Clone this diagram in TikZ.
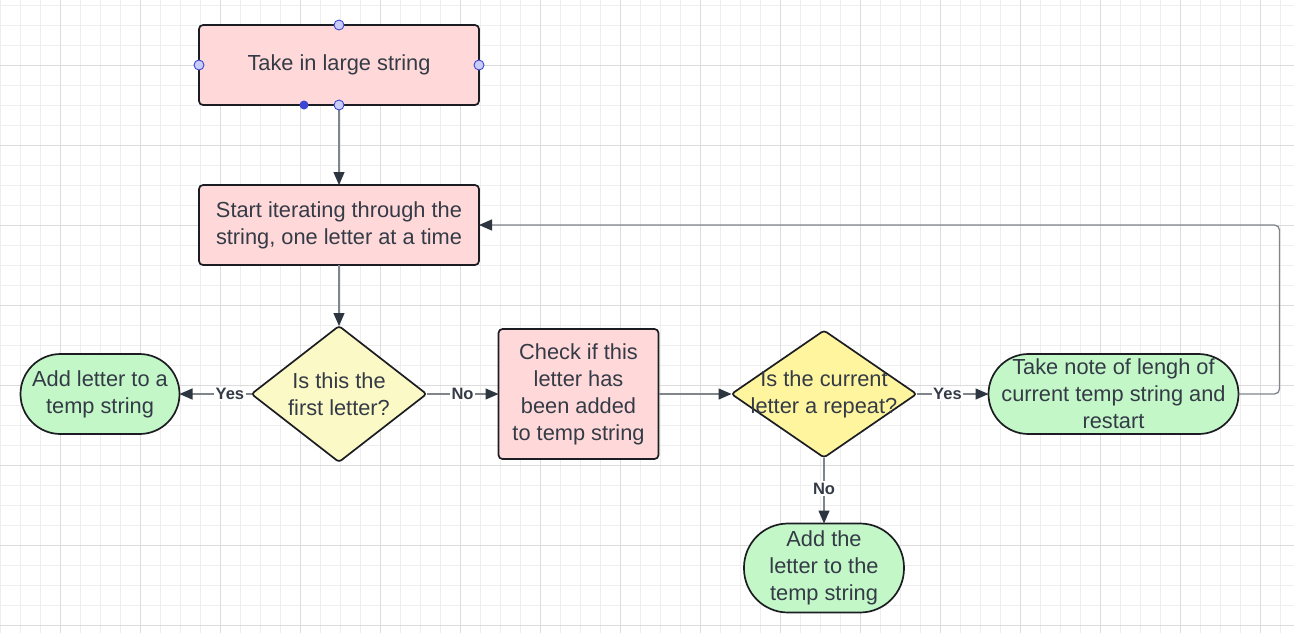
\documentclass[tikz,border=0pt]{standalone}
\usepackage{fontspec}
\setmainfont{Liberation Sans}
\usepackage{xcolor}
\usetikzlibrary{positioning,shapes,arrows.meta,calc}
\definecolor{boxpink}{HTML}{FFD9D9}
\definecolor{palelemon}{HTML}{FBF9C6}
\definecolor{lemon}{HTML}{FFF59F}
\definecolor{mint}{HTML}{C3F7C8}
\definecolor{edgeblack}{HTML}{1C1D22}
\definecolor{txt}{HTML}{343B46}
\definecolor{wire}{HTML}{80858C}
\definecolor{tipdark}{HTML}{2D3540}
\definecolor{gridminor}{HTML}{EEEEEE}
\definecolor{gridmajor}{HTML}{DCDCDC}
\definecolor{handlefill}{HTML}{C9CDFB}
\definecolor{handleblue}{HTML}{3C46D2}
\tikzset{%
	block/.style    = {draw=edgeblack, fill=boxpink, rectangle, rounded corners=4pt,
		line width=1.7pt, text=txt, align=center, inner sep=2pt, outer sep=0pt,
		font=\fontsize{21.8}{27}\selectfont},
	term/.style     = {block, fill=mint, rounded corners=40pt},
	decision/.style = {draw=edgeblack, diamond, line width=1.7pt, rounded corners=3pt,
		inner sep=0pt, outer sep=0pt},
	qtext/.style    = {text=txt, align=center, font=\fontsize{21.8}{27}\selectfont},
	answer/.style   = {fill=white, text=txt, inner sep=1.5pt,
		font=\bfseries\fontsize{16.5}{19}\selectfont},
	handle/.style   = {circle, draw=handleblue, fill=handlefill, line width=0.9pt,
		minimum size=10pt, inner sep=0pt},
	grip/.style     = {circle, fill=handleblue, minimum size=9pt, inner sep=0pt}
}

\begin{document}
\begin{tikzpicture}[x=1pt, y=-1pt,
          >={Triangle[length=13pt, width=11pt, color=tipdark]}]
        \useasboundingbox (0,0) rectangle (1294,633);
        % grid
        \fill[white] (0,0) rectangle (1294,633);
        \foreach \gx in {0,20,...,1280} \draw[gridminor, line width=1pt] (\gx,0) -- (\gx,633);
        \foreach \gy in {5,25,...,625} \draw[gridminor, line width=1pt] (0,\gy) -- (1294,\gy);
        \foreach \gx in {60,140,...,1260} \draw[gridmajor, line width=1pt] (\gx,0) -- (\gx,633);
        \foreach \gy in {65,145,...,625} \draw[gridmajor, line width=1pt] (0,\gy) -- (1294,\gy);

        \draw
        	node at (339,65)[block, name=take, minimum width=280pt, minimum height=80pt] {Take in large string}
        	node [block, below=80pt of take, minimum width=280pt, minimum height=80pt] (iter) {Start iterating through the\\string, one letter at a time}
        	node [decision, fill=palelemon, below=61pt of iter, minimum width=175pt, minimum height=136pt,
        		label={[qtext]center:{Is this the\\first letter?}}] (first) {}
        	node [term, left=72pt of first, minimum width=159pt, minimum height=80pt] (addtemp) {Add letter to a\\temp string}
        	node [block, right=72pt of first, minimum width=160pt, minimum height=130pt] (check) {Check if this\\letter has\\been added\\to temp string}
        	node [decision, fill=lemon, right=73pt of check, minimum width=185pt, minimum height=127pt,
        		label={[qtext]center:{Is the current\\letter a repeat?}}] (repeat) {}
        	node [term, right=72pt of repeat, minimum width=250pt, minimum height=80pt] (note) {Take note of lengh of\\current temp string and\\restart}
        	node [term, below=66pt of repeat, minimum width=160pt, minimum height=89pt, rounded corners=44pt] (addthe) {Add the\\letter to the\\temp string};

        	\draw[->, wire, line width=1.3pt](take) -- (iter);
        	\draw[->, wire, line width=1.3pt](iter) -- (first);
        	\draw[->, wire, line width=1.3pt](first) -- node[answer, pos=0.3] {Yes} (addtemp);
        	\draw[->, wire, line width=1.3pt](first) -- node[answer] {No} (check);
        	\draw[->, wire, line width=1.3pt](check) -- (repeat);
        	\draw[->, wire, line width=1.3pt](repeat) -- node[answer, pos=0.43] {Yes} (note);
        	\draw[->, wire, line width=1.3pt](repeat) -- node[answer, pos=0.47] {No} (addthe);
        	\draw[->, wire, line width=1.3pt, rounded corners=5pt](note.east) -- ++(41,0) |- (iter.east);

        	% selection handles
        	\node[handle] (hn) at (take.north) {};
        	\node[handle] (hw) at (take.west) {};
        	\node[handle] (he) at (take.east) {};
        	\node[handle] (hs) at (take.south) {};
        	\node[grip] (hg) at ($(take.south)+(-35,0)$) {};
    \end{tikzpicture}
\end{document}
